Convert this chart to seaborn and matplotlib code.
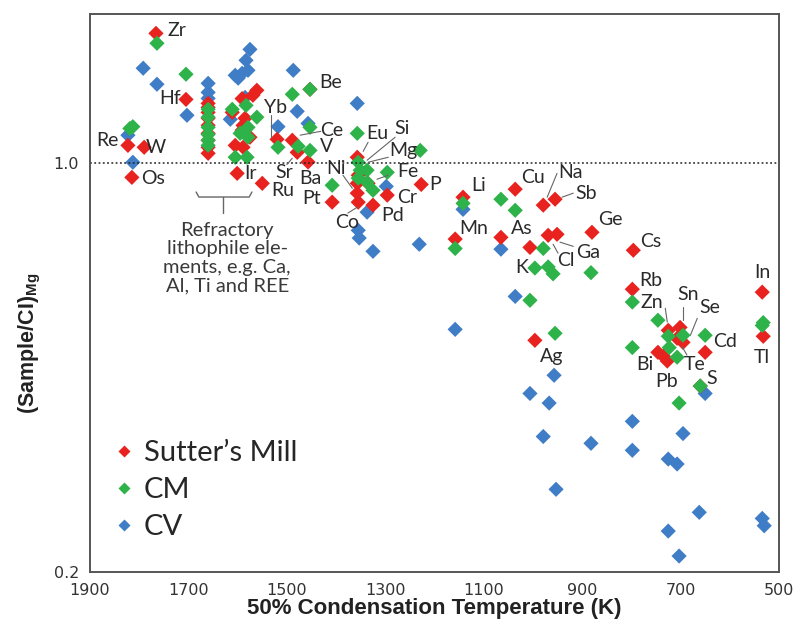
import pandas as pd
import matplotlib
matplotlib.use("Agg")
import matplotlib.pyplot as plt
from matplotlib.lines import Line2D
import seaborn as sns

# Sutter's Mill
sm_temp = [1766, 1705, 1823, 1790, 1815,
           1660, 1660, 1660, 1660, 1660, 1660, 1660, 1660, 1660,
           1561, 1569, 1591, 1611, 1585, 1589, 1591, 1575, 1605, 1589, 1601, 1550,
           1520, 1489, 1479, 1457, 1453, 1408,
           1357, 1355, 1357, 1357, 1355, 1335, 1325, 1296, 1227,
           1142, 1036, 979, 955, 1158, 1065, 1006, 969, 951, 880, 796, 798, 996,
           725, 701, 707, 695, 746, 735, 727, 650, 660, 534, 532]
sm_ratio = [1.668, 1.286, 1.073, 1.065, 0.946,
            1.266, 1.246, 1.222, 1.194, 1.161, 1.125, 1.095, 1.065, 1.040,
            1.333, 1.307, 1.290, 1.222, 1.194, 1.161, 1.139, 1.108, 1.073, 1.065, 0.961, 0.924,
            1.099, 1.095, 1.044, 1.005, 1.338, 0.858,
            1.024, 0.954, 0.924, 0.889, 0.858, 0.924, 0.848, 0.882, 0.920,
            0.875, 0.903, 0.848, 0.868, 0.742, 0.747, 0.718, 0.753, 0.756, 0.762, 0.710, 0.609, 0.498,
            0.518, 0.524, 0.502, 0.494, 0.475, 0.468, 0.459, 0.475, 0.416, 0.602, 0.506]

# CM chondrites
cm_temp = [1764, 1705, 1819, 1813,
           1660, 1660, 1660, 1660, 1660, 1660,
           1611, 1583, 1561, 1579, 1595, 1579, 1605, 1581,
           1518, 1477, 1453, 1453, 1453, 1489,
           1357, 1355, 1351, 1355, 1337, 1337, 1325, 1296, 1408, 1229,
           1142, 1065, 1036, 1158, 979, 996, 969, 959, 882, 798, 1006, 955, 798,
           746, 725, 695, 723, 707, 650, 660, 703, 532, 534]
cm_ratio = [1.604, 1.420, 1.147, 1.155,
            1.237, 1.199, 1.152, 1.120, 1.095, 1.073,
            1.237, 1.256, 1.199, 1.152, 1.125, 1.108, 1.024, 1.024,
            1.065, 1.069, 1.052, 1.152, 1.338, 1.312,
            1.125, 1.004, 0.973, 0.943, 0.973, 0.928, 0.899, 0.965, 0.917, 1.052,
            0.854, 0.868, 0.831, 0.715, 0.715, 0.662, 0.665, 0.647, 0.650, 0.579, 0.583, 0.512, 0.484,
            0.539, 0.506, 0.508, 0.484, 0.466, 0.508, 0.416, 0.389, 0.534, 0.528]

# CV chondrites
cv_temp = [1792, 1764, 1703, 1823, 1813,
           1660, 1660, 1660,
           1575, 1583, 1579, 1591, 1605, 1599, 1585, 1615,
           1487, 1479, 1518, 1457, 1357,
           1298, 1337, 1355, 1353, 1325, 1231, 1158, 1142, 1065, 1036,
           957, 1006, 967, 979, 882, 798, 798, 725, 707, 695, 953, 662, 725, 703, 534, 530, 650]
cv_ratio = [1.454, 1.365, 1.208, 1.117, 1.004,
            1.370, 1.322, 1.291,
            1.566, 1.500, 1.442, 1.425, 1.414, 1.398, 1.296, 1.189,
            1.442, 1.227, 1.155, 1.170, 1.266,
            0.913, 0.825, 0.768, 0.745, 0.707, 0.727, 0.520, 0.834, 0.713, 0.592,
            0.434, 0.404, 0.389, 0.341, 0.332, 0.362, 0.323, 0.312, 0.306, 0.345, 0.277, 0.253, 0.235, 0.213, 0.247, 0.240, 0.404]

# element labels: name, text position (T, ratio), optional leader end
labels = [
    ("Zr", 1723, 1.688, None), ("Hf", 1737, 1.291, None), ("Re", 1865, 1.095, None),
    ("W", 1766, 1.065, None), ("Os", 1772, 0.943, None), ("Be", 1412, 1.375, None),
    ("Yb", 1522, 1.246, ((1532, 1.208), (1532, 1.108))),
    ("Ce", 1408, 1.139, ((1431, 1.134), (1473, 1.117))),
    ("V", 1420, 1.069, None),
    ("Sr", 1506, 0.966, ((1500, 0.995), (1489, 1.020))),
    ("Ba", 1453, 0.943, None), ("Ir", 1573, 0.961, None), ("Ru", 1508, 0.899, None),
    ("Ni", 1400, 0.980, ((1386, 0.954), (1367, 0.906))),
    ("Pt", 1449, 0.871, None),
    ("Co", 1378, 0.793, ((1376, 0.822), (1357, 0.841))),
    ("Eu", 1317, 1.125, ((1335, 1.086), (1345, 1.048))),
    ("Si", 1266, 1.148, ((1280, 1.108), (1337, 1.012))),
    ("Mg", 1264, 1.052, ((1294, 1.024), (1335, 1.004))),
    ("Fe", 1254, 0.969, ((1294, 0.954), (1317, 0.939))),
    ("Cr", 1256, 0.875, None), ("Pd", 1286, 0.815, None), ("P", 1199, 0.921, None),
    ("Li", 1111, 0.917, None), ("Mn", 1120, 0.774, None), ("Cu", 1000, 0.946, None),
    ("Na", 924, 0.965, ((951, 0.961), (971, 0.875))),
    ("Sb", 892, 0.889, ((918, 0.889), (941, 0.875))),
    ("As", 1022, 0.774, None), ("K", 1022, 0.664, None),
    ("Cl", 933, 0.682, ((949, 0.702), (959, 0.727))),
    ("Ga", 888, 0.705, ((918, 0.721), (945, 0.733))),
    ("Ge", 843, 0.802, None), ("Cs", 760, 0.736, None), ("Rb", 760, 0.631, None),
    ("Zn", 758, 0.579, ((731, 0.565), (727, 0.535))),
    ("Sn", 685, 0.597, ((695, 0.567), (695, 0.539))),
    ("Se", 640, 0.567, ((666, 0.543), (680, 0.508))),
    ("Cd", 609, 0.496, None), ("Bi", 772, 0.452, None), ("Pb", 729, 0.424, None),
    ("Te", 672, 0.452, ((687, 0.470), (697, 0.486))),
    ("S", 636, 0.429, None), ("Ag", 963, 0.468, None),
    ("In", 534, 0.651, None), ("Tl", 534, 0.466, None),
]

colors = {"Sutter\u2019s Mill": "#E8231F", "CM": "#2DB34A", "CV": "#3F7DC6"}

# CV at the bottom, CM on top
df = pd.concat([
    pd.DataFrame({"T": cv_temp, "ratio": cv_ratio, "sample": "CV"}),
    pd.DataFrame({"T": sm_temp, "ratio": sm_ratio, "sample": "Sutter\u2019s Mill"}),
    pd.DataFrame({"T": cm_temp, "ratio": cm_ratio, "sample": "CM"}),
], ignore_index=True)

sns.set_style("white")
plt.rcParams["mathtext.fontset"] = "custom"
plt.rcParams["mathtext.bf"] = "Liberation Sans:bold"
plt.rcParams["mathtext.rm"] = "Liberation Sans"

fig = plt.figure(figsize=(8.01, 6.42), dpi=100)
ax = fig.add_axes([0.1124, 0.109, 0.8601, 0.8692])

sns.scatterplot(data=df, x="T", y="ratio", hue="sample", palette=colors,
                marker="D", s=60, edgecolor="none", linewidth=0, legend=False, ax=ax)

ax.set_yscale("log")
ax.set_xlim(1900, 500)
ax.set_ylim(0.2, 1.8)
ax.axhline(1.0, color="#222222", linestyle=(0, (1.2, 1.6)), linewidth=1.1, zorder=1)

ax.set_xticks([1900, 1700, 1500, 1300, 1100, 900, 700, 500])
ax.set_yticks([0.2, 0.4, 0.6, 0.8, 1.0, 1.2, 1.4, 1.6])
ax.set_yticklabels(["0.2", "", "", "", "1.0", "", "", ""])
ax.minorticks_off()
ax.tick_params(direction="in", length=9, width=1.3, color="#444444",
               labelsize=11.5, labelcolor="#333333", labelfontfamily="DejaVu Sans", pad=8)
for sp in ax.spines.values():
    sp.set_color("#555555")
    sp.set_linewidth(1.4)

ax.set_xlabel("50% Condensation Temperature (K)", fontsize=16, fontweight="bold",
              family="Liberation Sans", color="#222222", labelpad=0)
ax.set_ylabel(r"(Sample/CI)$_{\mathbf{Mg}}$", fontsize=15.5, fontweight="bold",
              family="Liberation Sans", color="#222222")
ax.yaxis.set_label_coords(-0.068, 0.41)

for name, tx, ty, leader in labels:
    ax.text(tx, ty, name, ha="center", va="center", fontsize=14,
            family="Lato", color="#2a2a2a", zorder=5)
    if leader is not None:
        (x0, y0), (x1, y1) = leader
        ax.plot([x0, x1], [y0, y1], color="#666666", linewidth=0.8, zorder=4)

# bracket for refractory lithophiles
ax.plot([0.154, 0.158, 0.231, 0.235], [0.681, 0.672, 0.672, 0.681],
        transform=ax.transAxes, color="#666666", linewidth=1.0)
ax.plot([0.193, 0.193], [0.672, 0.643], transform=ax.transAxes, color="#666666", linewidth=1.0)
ax.text(0.199, 0.628, "Refractory\nlithophile ele-\nments, e.g. Ca,\nAl, Ti and REE",
        transform=ax.transAxes, ha="center", va="top", fontsize=14.5, family="Lato",
        color="#3a3a3a", linespacing=1.12)

handles = [Line2D([], [], marker="D", linestyle="none", markersize=6.5,
                  markerfacecolor=colors[k], markeredgecolor="none", label=k)
           for k in ["Sutter\u2019s Mill", "CM", "CV"]]
ax.legend(handles=handles, loc="upper left", bbox_to_anchor=(0.017, 0.257), frameon=False,
          prop={"family": "Lato", "size": 21}, handlelength=0.7, handletextpad=0.35,
          labelspacing=0.38, borderaxespad=0)

fig.savefig("out.png", dpi=100)
